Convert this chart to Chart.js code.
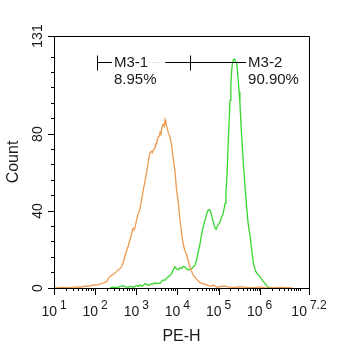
<!DOCTYPE html>
<html>
<head>
<meta charset="utf-8">
<script src="https://cdn.jsdelivr.net/npm/chart.js@4.4.0/dist/chart.umd.min.js"></script>
<style>
    html, body { margin: 0; padding: 0; background: #fff; }
</style>
</head>
<body>
<canvas id="histChart" width="343" height="350"></canvas>
<script>
// histogram PE-H - two overlays, x stored as log10(PE-H)

const orangeExp = [1.02, 1.20, 1.39, 1.55, 1.63, 1.75, 1.875, 1.95, 2.03, 2.12, 2.20, 2.28, 2.33, 2.36, 2.40, 2.44, 2.48, 2.52, 2.56, 2.60,
    2.64, 2.68, 2.72, 2.75, 2.78, 2.81, 2.85, 2.89, 2.91, 2.93, 2.95, 2.97, 3.01, 3.05, 3.09, 3.13, 3.17, 3.21, 3.25, 3.29,
    3.33, 3.36, 3.39, 3.41, 3.45, 3.48, 3.50, 3.53, 3.56, 3.58, 3.60, 3.62, 3.65, 3.68, 3.70, 3.72, 3.74, 3.76, 3.78, 3.82,
    3.86, 3.90, 3.94, 3.98, 4.02, 4.06, 4.10, 4.14, 4.18, 4.23, 4.27, 4.31, 4.35, 4.39, 4.47, 4.55, 4.63, 4.70, 4.79, 4.88,
    4.96, 5.06, 5.16, 5.25, 5.40, 5.50, 5.64, 5.75, 5.89, 6.00, 6.10, 6.25, 6.50, 6.80];
const orangeCount = [0, 0.3, 0.2, 0.6, 0.4, 0.9, 1.0, 1.6, 1.5, 2.0, 2.6, 3.3, 5.2, 6.0, 6.6, 7.0, 7.8, 8.5, 9.5, 10.0,
    10.8, 13.0, 16.5, 18.0, 20.5, 22.0, 25.5, 28.0, 30.5, 31.0, 30.2, 31.5, 35.5, 38.8, 41.0, 46.0, 51.0, 55.0, 60.0, 65.5,
    70.0, 71.0, 70.3, 71.7, 72.5, 75.0, 76.0, 78.5, 79.0, 81.0, 80.0, 83.0, 85.0, 84.0, 87.5, 86.0, 84.0, 82.5, 80.5, 78.6,
    74.0, 67.0, 61.0, 51.0, 45.0, 36.0, 29.0, 23.0, 19.5, 17.0, 13.5, 10.5, 8.5, 6.5, 4.5, 2.8, 2.2, 1.8, 1.0, 1.4,
    0.4, 0.8, 1.0, 0.5, 0.3, 0.6, 0.5, 0.2, 0.2, 0.6, 0.2, 0, 0.3, 0];

const greenExp = [2.36, 2.44, 2.52, 2.60, 2.68, 2.74, 2.80, 2.87, 2.93, 2.98, 3.02, 3.06, 3.09, 3.13, 3.16, 3.21, 3.25, 3.29, 3.33, 3.38,
    3.42, 3.46, 3.50, 3.54, 3.58, 3.62, 3.66, 3.70, 3.74, 3.78, 3.82, 3.86, 3.90, 3.94, 3.98, 4.02, 4.06, 4.10, 4.14, 4.18,
    4.22, 4.27, 4.31, 4.35, 4.39, 4.43, 4.47, 4.51, 4.55, 4.59, 4.63, 4.67, 4.71, 4.75, 4.78, 4.81, 4.84, 4.87, 4.91, 4.94,
    4.97, 4.99, 5.03, 5.06, 5.10, 5.13, 5.16, 5.18, 5.20, 5.22, 5.24, 5.26, 5.28, 5.30, 5.32, 5.34, 5.36, 5.38, 5.40, 5.42,
    5.44, 5.46, 5.48, 5.50, 5.52, 5.54, 5.56, 5.60, 5.64, 5.68, 5.72, 5.77, 5.81, 5.85, 5.89, 5.93, 5.97, 6.01, 6.05, 6.09,
    6.13, 6.17, 6.21, 6.30];
const greenCount = [0, 0.4, 0.2, 0.7, 1.2, 0.6, 0.5, 0.8, 0.4, 1.0, 1.2, 0.8, 1.6, 1.0, 1.2, 2.2, 2.0, 1.4, 1.6, 2.4,
    2.0, 2.8, 2.2, 2.6, 2.4, 3.5, 4.2, 4.0, 5.2, 5.9, 6.5, 7.6, 9.5, 11.0, 10.0, 9.4, 10.5, 10.2, 11.2, 11.0,
    10.0, 9.4, 10.0, 10.2, 11.0, 12.0, 15.0, 18.9, 23.0, 28.0, 32.0, 35.0, 38.5, 40.5, 40.8, 39.7, 37.0, 34.5, 31.5, 30.5,
    32.0, 33.0, 34.0, 36.0, 38.0, 40.5, 44.0, 50.0, 56.0, 66.0, 78.0, 88.0, 97.7, 106.0, 113.0, 117.0, 118.5, 119.0, 118.5, 117.5,
    116.8, 113.0, 108.0, 102.0, 96.0, 88.0, 80.0, 66.0, 54.0, 43.0, 33.6, 26.7, 19.0, 12.8, 9.5, 7.6, 6.8, 5.9, 4.5, 3.3,
    2.4, 1.2, 0.4, 0];

const yTickValues = [0, 8, 16, 24, 32, 40, 48, 56, 64, 72, 80, 88, 96, 104, 112, 120, 131];
const yLabelValues = [0, 40, 80, 131];
const xLabelExps = [1, 2, 3, 4, 5, 6, 7.2];
const xLabelSups = ['1', '2', '3', '4', '5', '6', '7.2'];

// gates M3-1 / M3-2
const gateNames = ['M3-1', 'M3-2'];
const gatePercents = ['8.95%', '90.90%'];
const gateStartExp = [2.045, 4.307];
const gateEndExp = [4.307, 5.67];
const gateLevel = 117.5;

const X_MAX = Math.pow(10, 7.2);
const FONT = 'Liberation Sans, Arial, sans-serif';

function toPoints(exps, counts) {
    return exps.map((e, i) => ({ x: Math.pow(10, e), y: counts[i] }));
}

function logTicks() {
    const vals = [];
    for (let k = 1; k <= 7; k++) {
        for (let m = 1; m <= 9; m++) {
            const v = m * Math.pow(10, k);
            if (v <= X_MAX) vals.push(v);
        }
    }
    vals.push(X_MAX);
    return vals;
}

const overlayPlugin = {
    id: 'overlay',
    afterDraw(chart) {
        const { ctx, chartArea: a, scales } = chart;
        const x = scales.x, y = scales.y;
        ctx.save();
        ctx.strokeStyle = '#000';
        ctx.lineWidth = 1;

        // frame top + right
        ctx.beginPath();
        ctx.moveTo(a.left, Math.round(a.top) + 0.5);
        ctx.lineTo(Math.round(a.right) + 0.5, Math.round(a.top) + 0.5);
        ctx.lineTo(Math.round(a.right) + 0.5, a.bottom);
        ctx.stroke();

        // longer major ticks
        ctx.beginPath();
        yLabelValues.forEach(v => {
            const py = Math.round(y.getPixelForValue(v)) + 0.5;
            ctx.moveTo(a.left - 6, py);
            ctx.lineTo(a.left, py);
        });
        xLabelExps.forEach(e => {
            const px = Math.round(x.getPixelForValue(Math.pow(10, e))) + 0.5;
            ctx.moveTo(px, a.bottom);
            ctx.lineTo(px, a.bottom + 7);
        });
        ctx.stroke();

        ctx.fillStyle = '#1a1a1a';

        // y labels, rotated
        ctx.font = '14px ' + FONT;
        ctx.textAlign = 'center';
        ctx.textBaseline = 'alphabetic';
        yLabelValues.forEach(v => {
            const py = y.getPixelForValue(v);
            ctx.save();
            ctx.translate(a.left - 12, py);
            ctx.rotate(-Math.PI / 2);
            ctx.fillText(String(v), 0, 0);
            ctx.restore();
        });

        // x labels 10^k
        xLabelExps.forEach((e, i) => {
            const px = x.getPixelForValue(Math.pow(10, e));
            ctx.font = '14px ' + FONT;
            const wb = ctx.measureText('10').width;
            ctx.font = '12px ' + FONT;
            const ws = ctx.measureText(xLabelSups[i]).width;
            const gap = 3;
            const start = px - (wb + gap + ws) / 2;
            ctx.textAlign = 'left';
            ctx.font = '14px ' + FONT;
            ctx.fillText('10', start, a.bottom + 28);
            ctx.font = '12px ' + FONT;
            ctx.fillText(xLabelSups[i], start + wb + gap, a.bottom + 21);
        });

        // axis titles
        ctx.font = '16px ' + FONT;
        ctx.textAlign = 'center';
        ctx.fillText('PE-H', (a.left + a.right) / 2, a.bottom + 53);
        ctx.save();
        ctx.translate(18, (a.top + a.bottom) / 2);
        ctx.rotate(-Math.PI / 2);
        ctx.fillText('Count', 0, 0);
        ctx.restore();

        // gates
        ctx.font = '15px ' + FONT;
        ctx.textAlign = 'left';
        const gy = Math.round(y.getPixelForValue(gateLevel)) + 0.5;
        gateNames.forEach((name, i) => {
            const x0 = x.getPixelForValue(Math.pow(10, gateStartExp[i]));
            const x1 = x.getPixelForValue(Math.pow(10, gateEndExp[i]));
            const tx = i === 0 ? x0 + 17 : x1 + 2;
            const tw = ctx.measureText(name).width;
            ctx.strokeStyle = '#000';
            ctx.beginPath();
            if (i === 0) {
                ctx.moveTo(Math.round(x0) + 0.5, gy - 7);
                ctx.lineTo(Math.round(x0) + 0.5, gy + 8);
                ctx.moveTo(x0, gy);
                ctx.lineTo(tx - 2, gy);
                ctx.moveTo(tx + tw + 17, gy);
                ctx.lineTo(x1, gy);
            } else {
                ctx.moveTo(Math.round(x0) + 0.5, gy - 7);
                ctx.lineTo(Math.round(x0) + 0.5, gy + 8);
                ctx.moveTo(x0, gy);
                ctx.lineTo(x1, gy);
            }
            ctx.stroke();
            if (i === 0) {
                ctx.strokeStyle = '#c8c8c8';
                ctx.setLineDash([1, 2]);
                ctx.beginPath();
                ctx.moveTo(tx + tw + 1, gy);
                ctx.lineTo(tx + tw + 17, gy);
                ctx.stroke();
                ctx.setLineDash([]);
            }
            ctx.fillText(name, tx, gy + 4);
            ctx.fillText(gatePercents[i], tx, gy + 21);
        });

        ctx.restore();
    }
};

new Chart(document.getElementById('histChart'), {
    type: 'line',
    data: {
        datasets: [
            {
                label: 'M3 control',
                data: toPoints(orangeExp, orangeCount),
                borderColor: '#EF9A50',
                borderWidth: 1.3,
                pointRadius: 0,
                tension: 0,
                fill: false
            },
            {
                label: 'M3 PE',
                data: toPoints(greenExp, greenCount),
                borderColor: '#36D62C',
                borderWidth: 1.3,
                pointRadius: 0,
                tension: 0,
                fill: false
            }
        ]
    },
    options: {
        responsive: false,
        animation: false,
        layout: { padding: { left: 0, right: 34, top: 36, bottom: 0 } },
        plugins: {
            legend: { display: false },
            tooltip: { enabled: false }
        },
        scales: {
            x: {
                type: 'logarithmic',
                min: 10,
                max: X_MAX,
                afterBuildTicks: (scale) => { scale.ticks = logTicks().map(v => ({ value: v })); },
                afterFit: (scale) => { scale.height = 62; },
                ticks: { display: false, autoSkip: false },
                grid: { drawOnChartArea: false, color: '#000', tickLength: 3 },
                border: { color: '#000', width: 1 }
            },
            y: {
                type: 'linear',
                min: 0,
                max: 131,
                afterBuildTicks: (scale) => { scale.ticks = yTickValues.map(v => ({ value: v })); },
                afterFit: (scale) => { scale.width = 54; },
                ticks: { display: false, autoSkip: false },
                grid: { drawOnChartArea: false, color: '#000', tickLength: 3 },
                border: { color: '#000', width: 1 }
            }
        }
    },
    plugins: [overlayPlugin]
});
</script>
</body>
</html>
